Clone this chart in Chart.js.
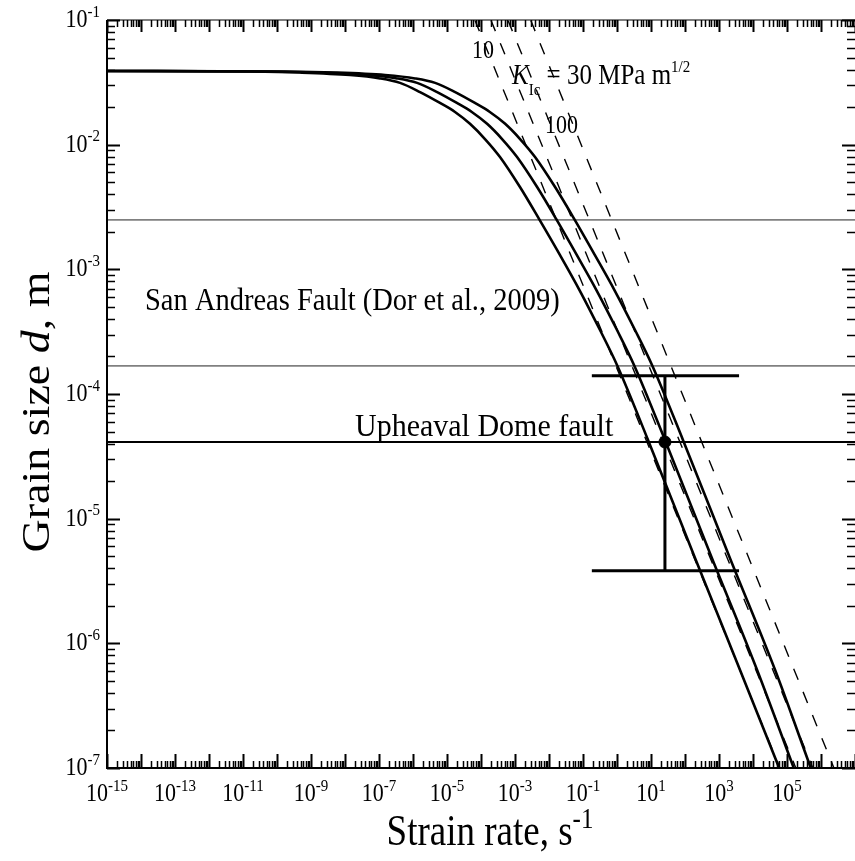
<!DOCTYPE html>
<html>
<head>
<meta charset="utf-8">
<script src="https://cdn.jsdelivr.net/npm/chart.js@4.4.1/dist/chart.umd.min.js"></script>
<style>
  html, body { margin: 0; padding: 0; background: #fff; }
  #wrap { width: 855px; height: 861px; position: relative; }
</style>
</head>
<body>
<div id="wrap"><canvas id="grainChart"></canvas></div>
<script>
// grain size (m) along the three model curves, same for each curve
const grainSize = [0.039, 0.0386, 0.0379, 0.0362, 0.034, 0.0313, 0.0264, 0.0216, 0.0183, 0.0147, 0.0111,
  0.00796, 0.00457, 0.00254, 0.0013, 6.7e-4, 3.26e-4, 1.71e-4, 4.28e-5, 4.84e-6, 6.11e-7, 1e-7];
// strain rate (1/s) of each curve at those grain sizes
const rateCurve1 = [1e-15, 1.62e-11, 4.74e-10, 1.4e-8, 1.07e-7, 4.15e-7, 1.61e-6, 6.22e-6, 1.72e-5, 4.74e-5, 1.31e-4,
  3.62e-4, 1.4e-3, 5.08e-3, 0.0211, 0.0817, 0.316, 1.0, 8.17, 197, 4150, 58900];
const rateCurve2 = [1e-15, 5.13e-11, 1.51e-9, 4.47e-8, 3.39e-7, 1.32e-6, 5.13e-6, 1.95e-5, 5.37e-5, 1.51e-4, 4.17e-4,
  1.15e-3, 4.47e-3, 0.0162, 0.0661, 0.257, 1.0, 3.16, 25.7, 617, 13200, 158000];
const rateCurve3 = [1e-15, 1.74e-10, 5.13e-9, 1.51e-7, 1.15e-6, 4.47e-6, 1.74e-5, 6.61e-5, 1.82e-4, 5.13e-4, 1.41e-3,
  3.89e-3, 0.0151, 0.055, 0.224, 0.871, 3.39, 10.7, 87.1, 2090, 44700, 501000];

// dashed power-law lines (K_Ic family): strain rate where each meets the top and bottom axis
const dashedRateTop = [6.6e-5, 1.95e-4, 6.17e-4, 2.88e-3];
const dashedRateBottom = [6.17e4, 1.82e5, 5.75e5, 2.4e6];
const dashedSize = [0.1, 1e-7];

// field observations
const sanAndreasSizes = [2.49e-3, 1.68e-4];
const upheavalSize = 4.12e-5;
const upheavalRate = 25.7;
const upheavalSizeRange = [1.4e-4, 3.83e-6];
const upheavalRateRange = [0.182, 3890];

const xLabelExp = [-15, -13, -11, -9, -7, -5, -3, -1, 1, 3, 5];
const yLabelExp = [-1, -2, -3, -4, -5, -6, -7];
const xMin = 1e-15, xMax = 1e7, yMin = 1e-7, yMax = 1e-1;

const SERIF = '"Liberation Serif", "Times New Roman", serif';
const STRETCH = 1.18; // the original figure text is a bit tall

function curve(rates) {
    return rates.map((r, i) => ({ x: r, y: grainSize[i] }));
}

function hline(y, color, width) {
    return { data: [{ x: xMin, y }, { x: xMax, y }], borderColor: color, borderWidth: width };
}

// draw a row of text pieces (different fonts / offsets) starting at x
function drawRuns(ctx, runs, x, y, align, sy) {
    let w = 0;
    runs.forEach(r => { ctx.font = r.f; r.w = ctx.measureText(r.t).width; w += r.w; });
    let cx = align === 'center' ? x - w / 2 : align === 'right' ? x - w : x;
    ctx.save();
    ctx.translate(0, y);
    ctx.scale(1, sy || 1);
    runs.forEach(r => { ctx.font = r.f; ctx.fillText(r.t, cx, r.dy || 0); cx += r.w; });
    ctx.restore();
}

function pow10(exp, size) {
    return [
        { t: '10', f: `${size}px ${SERIF}` },
        { t: String(exp), f: `${Math.round(size * 0.68)}px ${SERIF}`, dy: -size * 0.4 }
    ];
}

const framePlugin = {
    id: 'frame',
    afterDraw(chart) {
        const ctx = chart.ctx;
        const xs = chart.scales.x, ys = chart.scales.y;
        const { left, right, top, bottom } = chart.chartArea;
        ctx.save();
        ctx.fillStyle = '#000';
        ctx.strokeStyle = '#000';
        ctx.textBaseline = 'alphabetic';

        // axis lines
        ctx.lineWidth = 2;
        ctx.beginPath();
        ctx.moveTo(left, top); ctx.lineTo(left, bottom); ctx.lineTo(right, bottom);
        ctx.stroke();
        ctx.strokeStyle = '#555';
        ctx.lineWidth = 1.5;
        ctx.beginPath();
        ctx.moveTo(left, top); ctx.lineTo(right, top);
        ctx.stroke();
        ctx.strokeStyle = '#000';

        // x ticks, bottom and top, pointing inward
        for (let e = -15; e <= 7; e++) {
            for (let m = 1; m <= 9; m++) {
                const v = m * Math.pow(10, e);
                if (v > xMax * 1.0001) break;
                const px = Math.round(xs.getPixelForValue(v)) + 0.5;
                const major = m === 1;
                ctx.lineWidth = major ? 2 : 1.5;
                ctx.beginPath();
                ctx.moveTo(px, bottom); ctx.lineTo(px, bottom - (major ? 14 : 7));
                ctx.moveTo(px, top); ctx.lineTo(px, top + (major ? 12 : 7));
                ctx.stroke();
            }
        }
        // y ticks, left and right
        for (let e = -7; e <= -1; e++) {
            for (let m = 1; m <= 9; m++) {
                const v = m * Math.pow(10, e);
                if (v > yMax * 1.0001) break;
                const py = Math.round(ys.getPixelForValue(v)) + 0.5;
                const major = m === 1;
                ctx.lineWidth = major ? 2 : 1.5;
                ctx.beginPath();
                ctx.moveTo(left, py); ctx.lineTo(left + (major ? 13 : 8), py);
                ctx.moveTo(right, py); ctx.lineTo(right - (major ? 13 : 8), py);
                ctx.stroke();
            }
        }

        // tick labels
        xLabelExp.forEach(e => {
            drawRuns(ctx, pow10(e, 22), xs.getPixelForValue(Math.pow(10, e)), bottom + 33, 'center', STRETCH);
        });
        yLabelExp.forEach(e => {
            drawRuns(ctx, pow10(e, 22), left - 7, ys.getPixelForValue(Math.pow(10, e)) + 7, 'right', STRETCH);
        });

        // axis titles
        drawRuns(ctx, [
            { t: 'Strain rate, s', f: `37px ${SERIF}` },
            { t: '-1', f: `25px ${SERIF}`, dy: -14 }
        ], 490, 845, 'center', STRETCH);
        ctx.save();
        ctx.translate(49, 412);
        ctx.rotate(-Math.PI / 2);
        ctx.scale(STRETCH, 1);
        drawRuns(ctx, [
            { t: 'Grain size ', f: `39px ${SERIF}` },
            { t: 'd', f: `italic 39px ${SERIF}` },
            { t: ', m', f: `39px ${SERIF}` }
        ], 0, 0, 'center');
        ctx.restore();

        // annotations
        drawRuns(ctx, [{ t: 'San Andreas Fault (Dor et al., 2009)', f: `28.5px ${SERIF}` }], 145, 310, 'left', 1.08);
        drawRuns(ctx, [{ t: 'Upheaval Dome fault', f: `30px ${SERIF}` }], 355, 436, 'left', 1.05);
        drawRuns(ctx, [{ t: '10', f: `22px ${SERIF}` }], 472, 58, 'left', STRETCH);
        drawRuns(ctx, [{ t: '100', f: `22px ${SERIF}` }], 545, 133, 'left', STRETCH);
        drawRuns(ctx, [
            { t: 'K', f: `italic 25px ${SERIF}` },
            { t: 'Ic', f: `15px ${SERIF}`, dy: 9 },
            { t: ' = 30 MPa m', f: `25px ${SERIF}` },
            { t: '1/2', f: `15px ${SERIF}`, dy: -10 }
        ], 512, 84, 'left', STRETCH);

        ctx.restore();
    }
};

new Chart(document.getElementById('grainChart'), {
    type: 'line',
    data: {
        datasets: [
            { data: curve(rateCurve1), borderColor: '#000', borderWidth: 2.6, cubicInterpolationMode: 'monotone' },
            { data: curve(rateCurve2), borderColor: '#000', borderWidth: 2.6, cubicInterpolationMode: 'monotone' },
            { data: curve(rateCurve3), borderColor: '#000', borderWidth: 2.6, cubicInterpolationMode: 'monotone' },
            ...dashedRateTop.map((r, i) => ({
                data: [{ x: r, y: dashedSize[0] }, { x: dashedRateBottom[i], y: dashedSize[1] }],
                borderColor: '#000', borderWidth: 1.4, borderDash: [12, 13]
            })),
            hline(sanAndreasSizes[0], '#808080', 1.8),
            hline(sanAndreasSizes[1], '#808080', 1.8),
            hline(upheavalSize, '#000', 1.8),
            { data: [{ x: upheavalRate, y: upheavalSizeRange[0] }, { x: upheavalRate, y: upheavalSizeRange[1] }],
              borderColor: '#000', borderWidth: 3 },
            { data: [{ x: upheavalRateRange[0], y: upheavalSizeRange[0] }, { x: upheavalRateRange[1], y: upheavalSizeRange[0] }],
              borderColor: '#000', borderWidth: 3 },
            { data: [{ x: upheavalRateRange[0], y: upheavalSizeRange[1] }, { x: upheavalRateRange[1], y: upheavalSizeRange[1] }],
              borderColor: '#000', borderWidth: 3 },
            { data: [{ x: upheavalRate, y: upheavalSize }], showLine: false,
              pointRadius: 6, pointBackgroundColor: '#000', pointBorderColor: '#000' }
        ]
    },
    options: {
        responsive: true,
        maintainAspectRatio: false,
        animation: false,
        layout: { autoPadding: false, padding: { left: 107, top: 20, right: 0, bottom: 93 } },
        elements: { point: { radius: 0 }, line: { tension: 0 } },
        plugins: { legend: { display: false }, tooltip: { enabled: false } },
        scales: {
            x: { type: 'logarithmic', display: false, min: xMin, max: xMax },
            y: { type: 'logarithmic', display: false, min: yMin, max: yMax }
        }
    },
    plugins: [framePlugin]
});
</script>
</body>
</html>
